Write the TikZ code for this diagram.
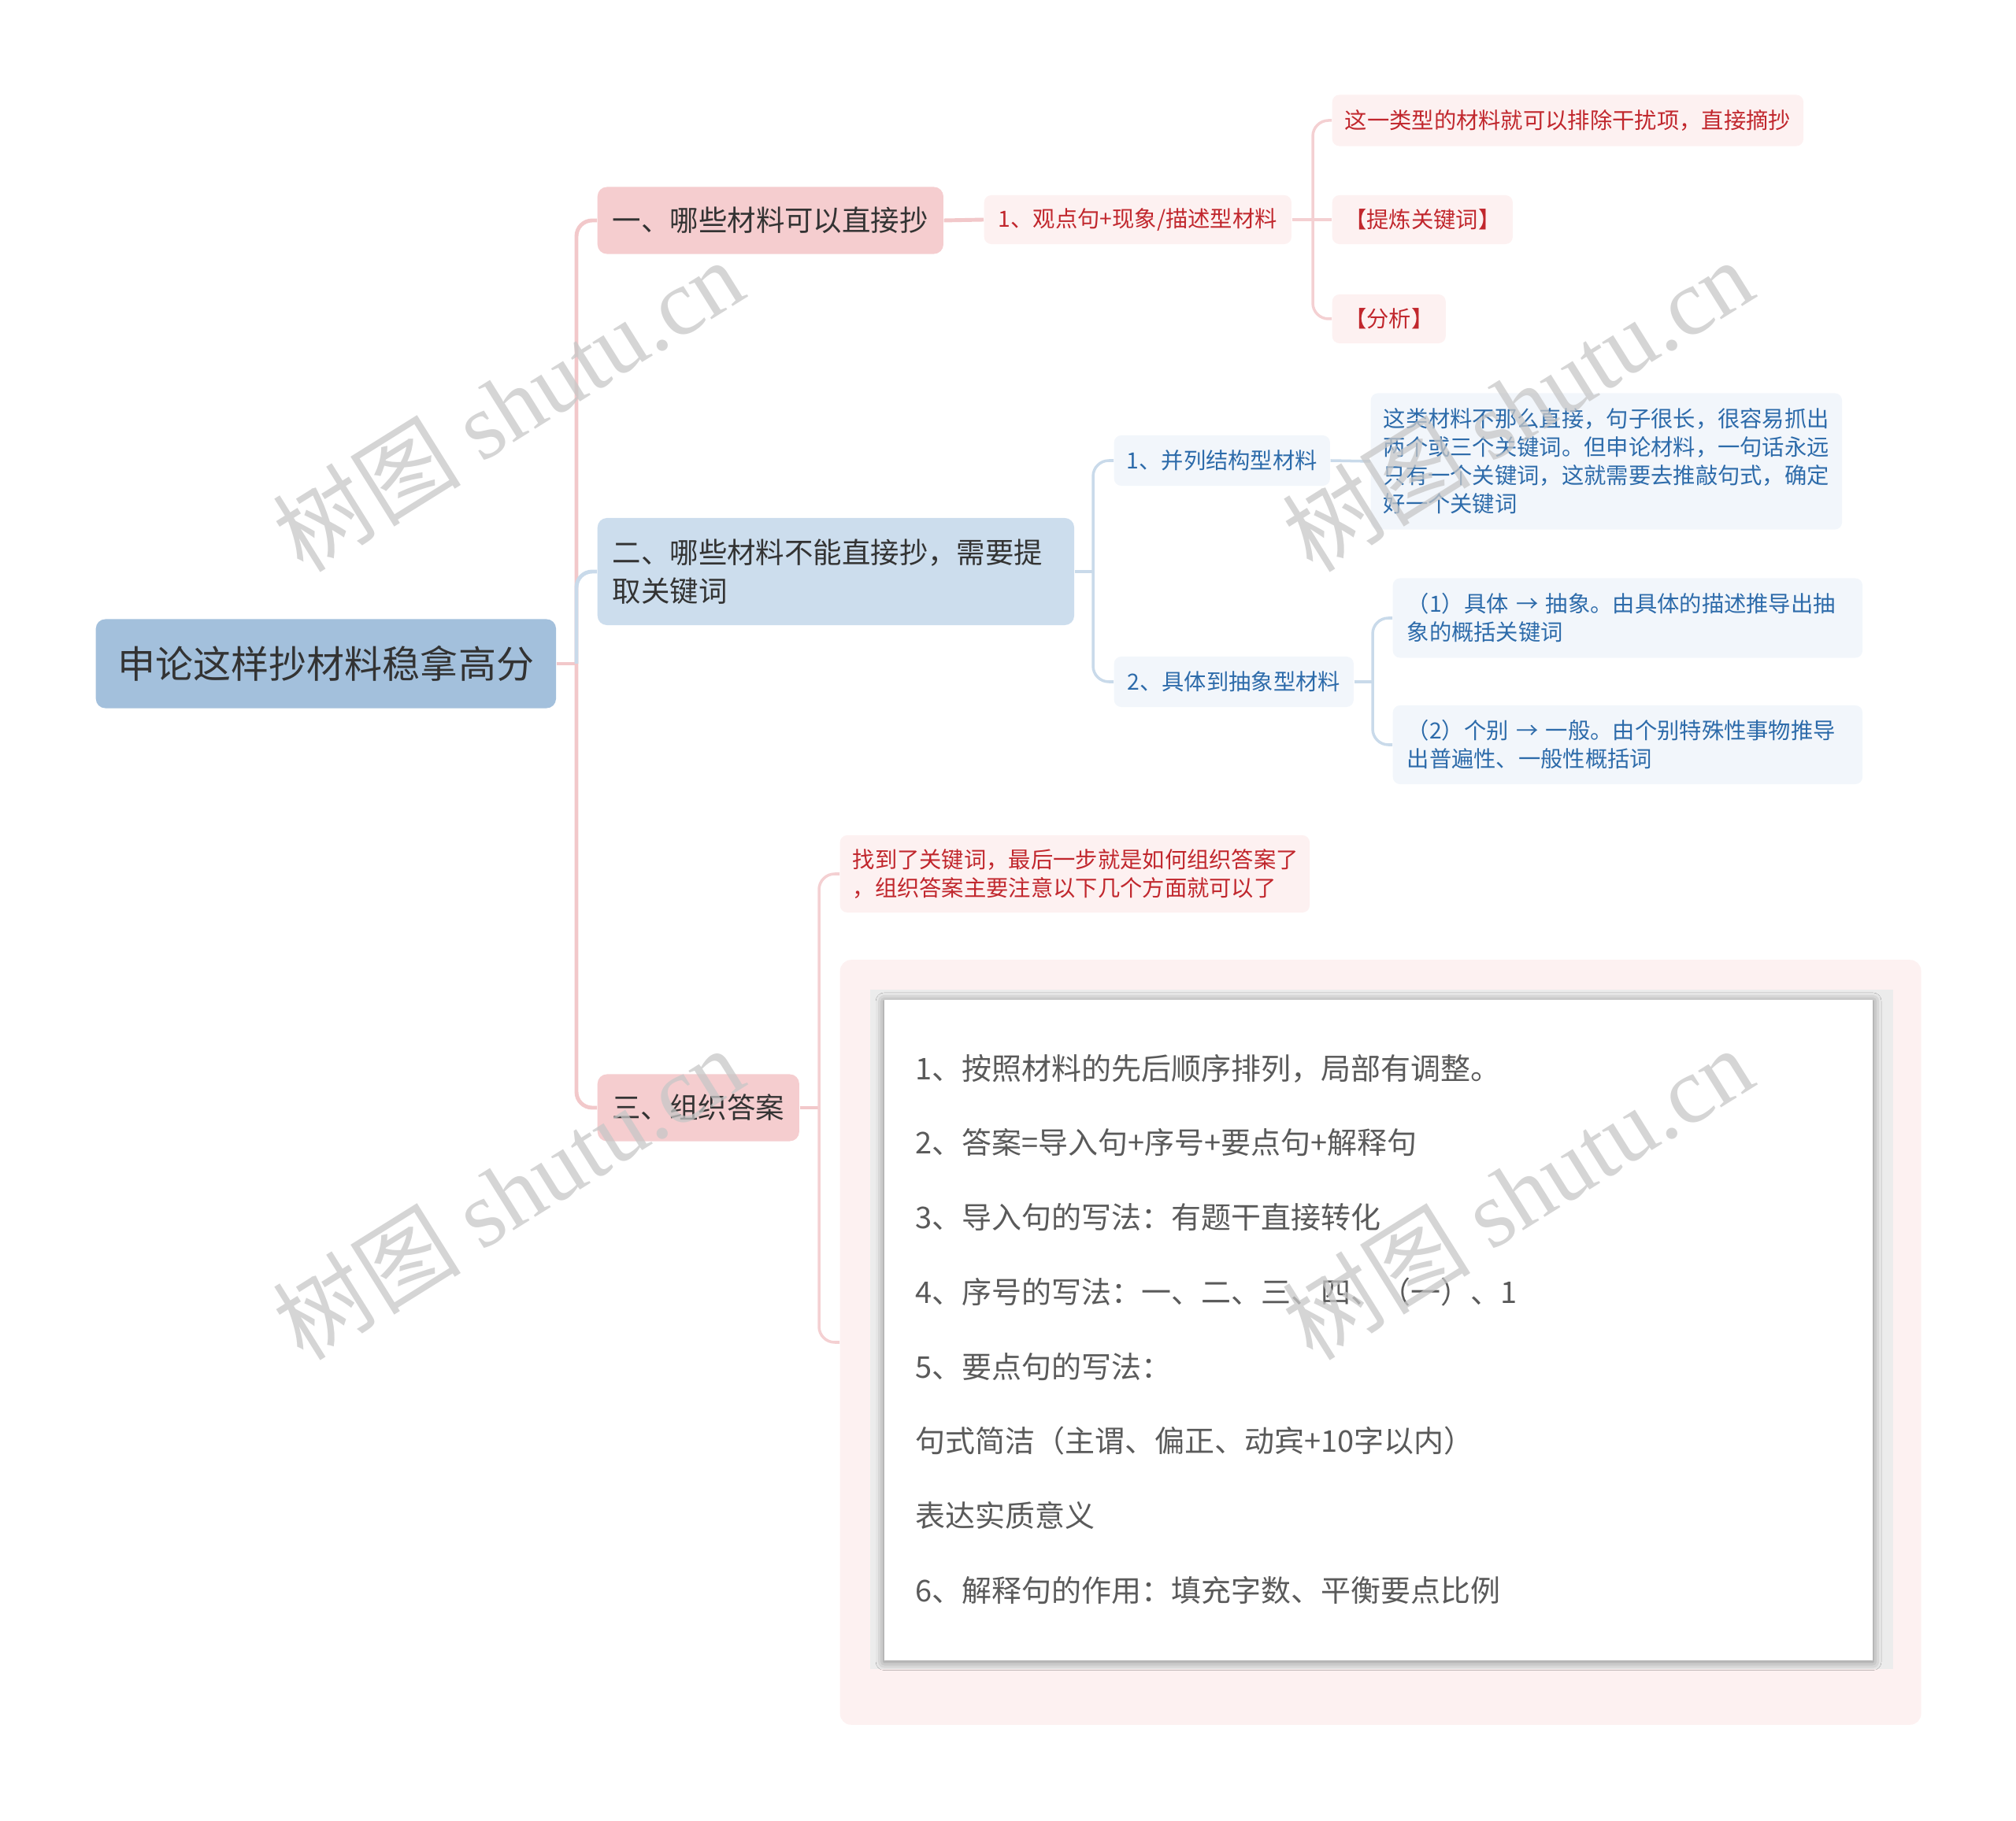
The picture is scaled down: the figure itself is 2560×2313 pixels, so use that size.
\documentclass[tikz,border=0pt]{standalone}
\usepackage{fontspec}
\setmainfont{Noto Sans CJK SC}
\newfontfamily\wmfont{Liberation Serif}
\usetikzlibrary{positioning, calc, shadows.blur}

\definecolor{rootblue}{HTML}{A3C0DC}
\definecolor{pinkfill}{HTML}{F5CDCF}
\definecolor{bluefill}{HTML}{CCDDED}
\definecolor{pinklight}{HTML}{FDF1F1}
\definecolor{bluelight}{HTML}{F2F6FB}
\definecolor{redtext}{HTML}{C1272D}
\definecolor{bluetext}{HTML}{2D6BAA}
\definecolor{pinkline}{HTML}{F2C8CA}
\definecolor{blueline}{HTML}{C9DAEA}
\definecolor{framegray}{HTML}{ECECEC}
\definecolor{graytext}{HTML}{5A5A5A}
\definecolor{darktext}{HTML}{333333}

\tikzset{
  box/.style={rounded corners=0.12cm, inner sep=0pt, anchor=west},
  rootbox/.style={box, fill=rootblue, text=darktext, minimum width=5.84cm, minimum height=1.13cm,
    font=\fontsize{13.66pt}{16pt}\selectfont},
  pinkmain/.style={box, fill=pinkfill, text=darktext, minimum height=0.85cm,
    font=\fontsize{10.36pt}{13.94pt}\selectfont},
  bluemain/.style={box, fill=bluefill, text=darktext,
    font=\fontsize{10.36pt}{13.94pt}\selectfont},
  pinksub/.style={box, rounded corners=0.09cm, fill=pinklight, text=redtext,
    font=\fontsize{8.05pt}{10.24pt}\selectfont},
  bluesub/.style={box, rounded corners=0.09cm, fill=bluelight, text=bluetext,
    font=\fontsize{8.05pt}{10.24pt}\selectfont},
  papertext/.style={anchor=west, inner sep=0pt, text=graytext,
    font=\fontsize{10.8pt}{13pt}\selectfont},
  trunkpink/.style={draw=pinkline, line width=1.4pt, rounded corners=0.2cm},
  trunkblue/.style={draw=blueline, line width=1.4pt, rounded corners=0.2cm},
  edgepink/.style={draw=pinkline!85, line width=1pt, rounded corners=0.2cm},
  edgeblue/.style={draw=blueline, line width=1pt, rounded corners=0.2cm},
  watermark/.style={rotate=32, text=black!22, opacity=0.75,
    font=\fontsize{34pt}{34pt}\selectfont}
}

\begin{document}
\begin{tikzpicture}[x=0.01cm, y=-0.01cm]
  \useasboundingbox (0,0) rectangle (2560,2313);

  % main topic and branches
  \node[rootbox] (root) at (121,843) {申论这样抄材料稳拿高分};
  \node[pinkmain, minimum width=4.39cm] (b1) at (758,280) {一、哪些材料可以直接抄};
  \node[bluemain, minimum height=1.36cm, text width=5.67cm, inner xsep=0.19cm, align=left] (b2) at (758,726)
    {二、哪些材料不能直接抄，需要提\\取关键词};
  \node[pinkmain, minimum width=2.56cm] (b3) at (758,1407) {三、组织答案};

  % branch one
  \node[pinksub, minimum width=3.9cm, minimum height=0.62cm] (s11) at (1249,279) {1、观点句+现象/描述型材料};
  \node[pinksub, minimum width=5.98cm, minimum height=0.65cm] (la) at (1691,153) {这一类型的材料就可以排除干扰项，直接摘抄};
  \node[pinksub, minimum width=2.29cm, minimum height=0.62cm] (lb) at (1691,279) {【提炼关键词】};
  \node[pinksub, minimum width=1.44cm, minimum height=0.62cm] (lc) at (1691,405) {【分析】};

  % branch two
  \node[bluesub, minimum width=2.74cm, minimum height=0.64cm] (s21) at (1414,585) {1、并列结构型材料};
  \node[bluesub, minimum height=1.73cm, text width=5.66cm, inner xsep=0.16cm, align=left] (ld) at (1740,586)
    {这类材料不那么直接，句子很长，很容易抓出\\两个或三个关键词。但申论材料，一句话永远\\只有一个关键词，这就需要去推敲句式，确定\\好一个关键词};
  \node[bluesub, minimum width=3.04cm, minimum height=0.64cm] (s22) at (1414,866) {2、具体到抽象型材料};
  \node[bluesub, minimum height=1.01cm, text width=5.6cm, inner xsep=0.18cm, align=left] (le) at (1768,785)
    {（1）具体 → 抽象。由具体的描述推导出抽\\象的概括关键词};
  \node[bluesub, minimum height=1.0cm, text width=5.6cm, inner xsep=0.18cm, align=left] (lf) at (1768,946)
    {（2）个别 → 一般。由个别特殊性事物推导\\出普遍性、一般性概括词};

  % branch three
  \node[pinksub, minimum height=0.98cm, text width=5.64cm, inner xsep=0.16cm, align=left] (note) at (1066,1110)
    {找到了关键词，最后一步就是如何组织答案了\\，组织答案主要注意以下几个方面就可以了};
  \node[box, rounded corners=0.14cm, fill=pinklight, minimum width=13.72cm, minimum height=9.71cm] (big) at (1066,1705) {};
  \node[fill=framegray, inner sep=0pt, anchor=north west, minimum width=12.99cm, minimum height=8.63cm] (frame) at (1104,1256) {};
  \node[fill=white, inner sep=0pt, anchor=north west, minimum width=12.55cm, minimum height=8.39cm,
    blur shadow={shadow xshift=0pt, shadow yshift=-0.5pt, shadow blur radius=3pt, shadow opacity=45}] (paper) at (1122,1269) {};
  \node[papertext] (p1) at (1162,1357) {1、按照材料的先后顺序排列，局部有调整。};
  \node[papertext] (p2) at (1162,1451) {2、答案=导入句+序号+要点句+解释句};
  \node[papertext] (p3) at (1162,1546) {3、导入句的写法：有题干直接转化};
  \node[papertext] (p4) at (1162,1641) {4、序号的写法：一、二、三、四、（一）、1};
  \node[papertext] (p5) at (1162,1736) {5、要点句的写法：};
  \node[papertext] (p6) at (1162,1830) {句式简洁（主谓、偏正、动宾+10字以内）};
  \node[papertext] (p7) at (1162,1925) {表达实质意义};
  \node[papertext] (p8) at (1162,2020) {6、解释句的作用：填充字数、平衡要点比例};

  % connectors
  \coordinate (hub0) at (732,843);
  \coordinate (hub1) at (1667,279);
  \coordinate (hub2) at (1388,726);
  \coordinate (hub3) at (1743,866);
  \coordinate (hub4) at (1040,1407);

  \draw[trunkpink] (root.east) -- (hub0);
  \draw[trunkpink] (hub0) |- (b1.west);
  \draw[trunkpink] (hub0) |- (b3.west);
  \draw[trunkblue] (hub0) |- (b2.west);

  \draw[trunkpink] (b1.east) -- (s11.west);
  \draw[edgepink] (s11.east) -- (hub1);
  \draw[edgepink] (hub1) |- (la.west);
  \draw[edgepink] (hub1) -- (lb.west);
  \draw[edgepink] (hub1) |- (lc.west);

  \draw[trunkblue] (b2.east) -- (hub2);
  \draw[edgeblue] (hub2) |- (s21.west);
  \draw[edgeblue] (hub2) |- (s22.west);
  \draw[edgeblue] (s21.east) -- (ld.west);
  \draw[edgeblue] (s22.east) -- (hub3);
  \draw[edgeblue] (hub3) |- (le.west);
  \draw[edgeblue] (hub3) |- (lf.west);

  \draw[trunkpink] (b3.east) -- (hub4);
  \draw[edgepink] (hub4) |- (note.west);
  \draw[edgepink] (hub4) |- (big.west);

  % watermarks
  \node[watermark] (wm1) at (645,514) {树图 {\wmfont shutu.cn}};
  \node[watermark] (wm2) at (1927,514) {树图 {\wmfont shutu.cn}};
  \node[watermark] (wm3) at (645,1515) {树图 {\wmfont shutu.cn}};
  \node[watermark] (wm4) at (1927,1515) {树图 {\wmfont shutu.cn}};
\end{tikzpicture}
\end{document}
